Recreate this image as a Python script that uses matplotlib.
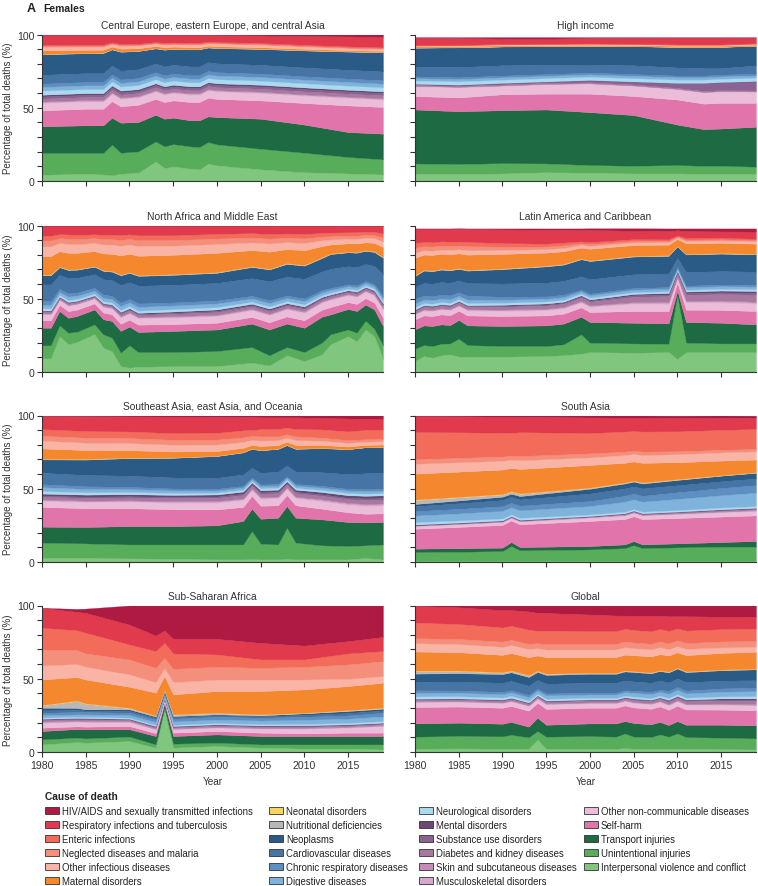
import numpy as np
import matplotlib
matplotlib.use('Agg')
import matplotlib.pyplot as plt
from matplotlib.patches import Patch

# causes, bottom of the stack first
causes = ['Interpersonal violence and conflict', 'Unintentional injuries', 'Transport injuries',
          'Self-harm', 'Other non-communicable diseases', 'Musculoskeletal disorders',
          'Skin and subcutaneous diseases', 'Diabetes and kidney diseases', 'Substance use disorders',
          'Mental disorders', 'Neurological disorders', 'Digestive diseases',
          'Chronic respiratory diseases', 'Cardiovascular diseases', 'Neoplasms',
          'Nutritional deficiencies', 'Neonatal disorders', 'Maternal disorders',
          'Other infectious diseases', 'Neglected diseases and malaria', 'Enteric infections',
          'Respiratory infections and tuberculosis', 'HIV/AIDS and sexually transmitted infections']
colors = ['#80C67F', '#58AD5B', '#1E6B43', '#E174AA', '#ECBDD9', '#D7A8CD', '#C48DB9', '#A8789F',
          '#8B6392', '#6B4775', '#A9DAF0', '#80B3DC', '#5E8FC3', '#4574A5', '#2A5B87', '#B9B7B8',
          '#F8D45E', '#F5872E', '#F9B4A6', '#F48F7B', '#F26C59', '#E13A4D', '#AE1A42']

# each row: year, then % of total deaths for every cause (same order as `causes`)
ceeca = [
    [1980, 4.3, 14.8, 18.2, 10.9, 5.0, .6, .4, 2.0, 1.5, 1.2, 2.8, 2.5, 2.3, 6.0, 14.0, .2, .1, 2.3, 2.5, .4, .8, 7.0, .2],
    [1985, 5.0, 14.1, 18.9, 11.3, 5.0, .6, .4, 2.0, 1.5, 1.2, 2.8, 2.5, 2.3, 6.0, 13.6, .2, .1, 2.0, 2.3, .4, .8, 6.8, .2],
    [1987, 4.5, 14.6, 18.9, 11.3, 5.0, .6, .4, 2.0, 1.5, 1.2, 2.8, 2.5, 2.3, 6.0, 13.8, .2, .1, 1.9, 2.2, .4, .8, 6.8, .2],
    [1988, 3.9, 20.9, 18.4, 11.3, 5.0, .6, .4, 2.0, 1.5, 1.2, 2.8, 2.5, 2.3, 6.0, 11.0, .2, .1, 1.6, 1.8, .4, .8, 5.1, .2],
    [1989, 5.0, 14.3, 20.5, 11.2, 5.0, .6, .4, 2.0, 1.5, 1.2, 2.8, 2.5, 2.3, 6.0, 12.9, .2, .1, 1.8, 2.0, .4, .8, 6.3, .2],
    [1991, 5.7, 14.5, 20.0, 11.8, 5.0, .6, .4, 2.0, 1.5, 1.2, 2.8, 2.5, 2.3, 6.0, 12.4, .2, .1, 1.6, 1.9, .4, .8, 6.1, .2],
    [1993, 13.4, 13.6, 18.2, 10.8, 5.0, .6, .4, 2.0, 1.5, 1.2, 2.8, 2.5, 2.3, 6.0, 10.2, .2, .1, 1.3, 1.6, .4, .8, 4.9, .2],
    [1994, 8.9, 14.7, 18.9, 11.4, 5.0, .6, .4, 2.0, 1.5, 1.2, 2.8, 2.5, 2.3, 6.0, 11.4, .2, .1, 1.4, 1.8, .4, .8, 5.5, .2],
    [1995, 10.0, 15.2, 18.0, 11.8, 5.0, .6, .4, 2.0, 1.5, 1.2, 2.8, 2.5, 2.3, 6.0, 10.8, .2, .1, 1.3, 1.7, .4, .8, 5.2, .2],
    [1997, 8.4, 15.2, 17.8, 12.5, 5.0, .6, .4, 2.0, 1.5, 1.2, 2.8, 2.5, 2.3, 6.0, 11.6, .2, .1, 1.2, 1.8, .4, .8, 5.4, .3],
    [1998, 8.0, 15.2, 18.2, 12.5, 5.0, .6, .4, 2.0, 1.5, 1.2, 2.8, 2.5, 2.3, 6.0, 11.7, .2, .1, 1.1, 1.8, .4, .8, 5.4, .3],
    [1999, 11.8, 14.8, 17.5, 12.7, 5.0, .6, .4, 2.0, 1.5, 1.2, 2.8, 2.5, 2.3, 6.0, 10.0, .2, .1, 1.0, 1.6, .4, .8, 4.5, .3],
    [2000, 10.7, 14.3, 18.6, 12.4, 5.0, .6, .4, 2.0, 1.5, 1.2, 2.8, 2.5, 2.3, 6.0, 10.4, .2, .1, 1.0, 1.7, .4, .8, 4.7, .4],
    [2005, 8.0, 14.0, 20.5, 12.5, 5.0, .6, .4, 2.0, 1.5, 1.2, 2.8, 2.5, 2.3, 6.0, 10.8, .2, .1, .9, 1.7, .4, .8, 5.2, .6],
    [2010, 6.0, 13.3, 19.2, 14.7, 5.0, .6, .4, 2.0, 1.5, 1.2, 2.8, 2.5, 2.3, 6.0, 11.6, .2, .1, .8, 1.6, .4, .8, 6.0, 1.0],
    [2015, 5.2, 11.2, 17.0, 18.2, 5.0, .6, .4, 2.0, 1.5, 1.2, 2.8, 2.5, 2.3, 6.0, 12.4, .2, .1, .7, 1.4, .4, .8, 6.8, 1.3],
    [2019, 4.5, 10.3, 17.5, 18.2, 5.0, .6, .4, 2.0, 1.5, 1.2, 2.8, 2.5, 2.3, 6.0, 13.0, .2, .1, .7, 1.3, .4, .8, 7.2, 1.5],
]

high_income = [
    [1980, 4.8, 7.2, 36.8, 9.2, 6.6, .3, .1, .6, .5, .3, 2.2, 1.6, 1.2, 6.6, 13.0, .1, .1, .6, .6, .1, .2, 5.1, .4],
    [1985, 4.8, 6.8, 36.0, 9.4, 7.0, .3, .1, .6, .5, .3, 2.2, 1.6, 1.2, 7.0, 13.4, .1, .1, .6, .6, .1, .2, 4.7, .6],
    [1990, 5.2, 7.0, 36.1, 10.9, 5.7, .3, .1, .6, .8, .3, 2.2, 1.6, 1.2, 7.0, 12.8, .1, .1, .6, .6, .1, .2, 3.7, 1.0],
    [1995, 6.0, 6.0, 36.8, 10.8, 6.4, .3, .1, .6, .7, .3, 2.2, 1.6, 1.2, 6.4, 12.6, .1, .1, .6, .6, .1, .2, 3.5, 1.0],
    [2000, 5.7, 5.2, 36.1, 12.6, 6.8, .3, .1, .6, 1.3, .3, 2.2, 1.6, 1.2, 5.5, 12.7, .1, .1, .6, .6, .1, .2, 3.7, .6],
    [2005, 5.2, 5.2, 34.6, 13.0, 6.9, .3, .1, .6, 1.8, .3, 2.2, 1.6, 1.2, 6.0, 13.0, .1, .1, .6, .6, .1, .2, 4.0, .5],
    [2010, 5.2, 5.7, 27.6, 17.1, 7.0, .3, .1, .6, 3.1, .3, 2.2, 1.6, 1.2, 5.5, 14.0, .1, .1, .6, .6, .1, .2, 4.6, .4],
    [2013, 5.0, 5.4, 25.0, 17.4, 7.7, .3, .1, .6, 5.2, .3, 2.2, 1.6, 1.2, 5.0, 14.5, .1, .1, .6, .6, .1, .2, 4.6, .4],
    [2015, 4.8, 5.6, 25.4, 17.5, 7.7, .3, .1, .6, 5.3, .3, 2.2, 1.6, 1.2, 4.4, 14.5, .1, .1, .6, .6, .1, .2, 4.6, .4],
    [2019, 4.8, 5.0, 27.2, 16.3, 7.5, .3, .1, .6, 6.2, .3, 2.2, 1.6, 1.2, 5.7, 13.3, .1, .1, .6, .6, .1, .2, 3.8, .4],
]

north_africa = [
    [1980, 9.3, 8.9, 12.0, 5.0, 4.1, .4, .3, 1.0, .5, .5, 1.5, 2.5, 2.4, 11.4, 6.2, .3, .2, 12.5, 6.8, 4.0, 3.2, 6.9, .1],
    [1981, 9.3, 8.9, 12.0, 5.0, 4.1, .4, .3, 1.0, .5, .5, 1.5, 2.5, 2.4, 11.4, 6.2, .3, .2, 12.5, 6.8, 4.0, 3.2, 6.9, .1],
    [1982, 24.5, 7.3, 9.8, 4.2, 3.4, .3, .3, .8, .4, .4, 1.3, 2.1, 2.0, 9.5, 5.2, .3, .2, 10.4, 5.7, 3.3, 2.7, 5.8, .1],
    [1983, 19.0, 7.8, 10.2, 4.5, 3.7, .4, .3, .9, .5, .5, 1.4, 2.3, 2.2, 10.3, 5.6, .3, .2, 11.2, 6.1, 3.6, 2.9, 6.0, .1],
    [1984, 20.5, 7.0, 10.7, 4.4, 3.6, .4, .3, .9, .4, .4, 1.3, 2.2, 2.1, 10.1, 5.5, .3, .2, 11.0, 6.0, 3.5, 2.8, 6.3, .1],
    [1986, 26.0, 6.5, 10.2, 4.1, 3.4, .3, .2, .8, .4, .4, 1.2, 2.0, 2.0, 9.3, 5.1, .2, .2, 10.2, 5.6, 3.3, 2.6, 5.9, .1],
    [1987, 16.6, 9.1, 10.3, 4.6, 3.8, .4, .3, .9, .5, .5, 1.4, 2.3, 2.2, 10.4, 5.7, .3, .2, 11.4, 6.2, 3.7, 2.9, 6.2, .1],
    [1988, 14.3, 9.1, 11.4, 4.6, 3.9, .4, .3, 1.0, .5, .6, 1.4, 2.3, 2.2, 10.7, 5.8, .3, .2, 11.7, 6.3, 3.7, 3.0, 6.2, .1],
    [1989, 4.0, 9.2, 14.8, 4.9, 4.4, .5, .4, 1.4, .6, .8, 1.5, 2.6, 2.3, 12.0, 6.6, .3, .2, 13.1, 6.6, 4.0, 3.3, 6.4, .1],
    [1990, 3.0, 15.2, 12.8, 4.7, 4.2, .5, .4, 1.4, .6, .8, 1.5, 2.5, 2.2, 11.5, 6.4, .3, .2, 12.5, 6.4, 3.8, 3.1, 5.9, .1],
    [1991, 3.6, 10.0, 13.7, 5.0, 4.4, .5, .4, 1.4, .6, .8, 1.5, 2.6, 2.3, 12.1, 6.7, .3, .2, 13.2, 6.7, 4.0, 3.3, 6.6, .1],
    [1995, 4.0, 9.6, 14.4, 4.7, 4.4, .6, .4, 1.6, .7, .9, 1.6, 2.5, 2.1, 12.0, 6.8, .3, .2, 13.2, 6.3, 3.8, 3.2, 6.5, .2],
    [2000, 4.0, 10.3, 14.7, 4.6, 4.5, .6, .4, 1.8, .8, 1.0, 1.6, 2.5, 2.0, 12.0, 6.9, .3, .2, 13.1, 6.1, 3.7, 3.2, 5.5, .2],
    [2004, 6.4, 10.6, 16.0, 4.6, 4.6, .6, .4, 1.6, .8, 1.0, 1.4, 2.2, 1.8, 12.1, 7.6, .3, .2, 11.0, 5.3, 3.3, 3.0, 5.0, .2],
    [2006, 4.5, 6.9, 17.6, 4.9, 4.9, .6, .4, 1.7, .8, 1.0, 1.5, 2.3, 1.9, 12.9, 8.1, .3, .2, 11.6, 5.6, 3.4, 3.1, 5.6, .2],
    [2008, 11.4, 5.6, 16.0, 4.9, 4.9, .6, .4, 1.5, .8, .9, 1.4, 2.1, 1.7, 12.9, 8.7, .3, .2, 9.6, 4.8, 3.0, 2.9, 5.1, .3],
    [2010, 7.5, 6.1, 16.6, 5.1, 5.1, .6, .4, 1.6, .8, .9, 1.5, 2.2, 1.8, 13.4, 9.0, .3, .2, 10.0, 5.0, 3.1, 3.0, 5.5, .3],
    [2012, 12.0, 8.0, 17.7, 4.8, 4.9, .5, .4, 1.4, .7, .8, 1.3, 1.9, 1.5, 12.7, 9.2, .3, .2, 7.6, 4.0, 2.5, 2.6, 4.7, .3],
    [2013, 19.0, 6.7, 13.6, 5.0, 5.0, .5, .4, 1.3, .7, .7, 1.3, 1.8, 1.3, 13.1, 10.1, .3, .2, 6.0, 3.5, 2.2, 2.5, 4.5, .3],
    [2015, 24.5, 4.5, 14.0, 4.7, 4.7, .5, .3, 1.2, .7, .7, 1.2, 1.7, 1.2, 12.3, 9.5, .2, .2, 5.7, 3.2, 2.1, 2.3, 4.4, .2],
    [2016, 21.0, 5.8, 14.8, 4.8, 4.9, .5, .3, 1.3, .7, .7, 1.3, 1.7, 1.3, 12.6, 9.7, .3, .2, 5.8, 3.3, 2.1, 2.4, 4.2, .3],
    [2017, 29.0, 6.0, 11.0, 4.4, 4.5, .5, .3, 1.2, .6, .6, 1.2, 1.6, 1.2, 11.6, 9.0, .2, .2, 5.4, 3.1, 2.0, 2.2, 4.0, .2],
    [2018, 24.5, 5.0, 13.2, 4.7, 4.8, .5, .3, 1.3, .7, .7, 1.3, 1.7, 1.3, 12.4, 9.5, .3, .2, 5.7, 3.3, 2.1, 2.3, 3.9, .3],
    [2019, 9.0, 9.2, 13.2, 5.6, 5.7, .6, .4, 1.5, .8, .8, 1.5, 2.0, 1.5, 14.8, 11.4, .3, .2, 6.8, 3.9, 2.5, 2.8, 5.2, .3],
]

latin_america = [
    [1980, 7.5, 8.4, 13.2, 6.8, 3.4, .5, .3, 1.5, .5, .6, 1.6, 2.5, 3.2, 8.2, 7.3, .4, .2, 11.9, 3.4, 3.4, 3.4, 9.8, .0],
    [1981, 10.9, 7.5, 13.4, 6.8, 3.4, .5, .3, 1.7, .5, .6, 1.5, 2.3, 2.7, 8.6, 8.5, .3, .2, 10.4, 3.0, 2.8, 2.9, 9.0, .2],
    [1982, 9.8, 7.9, 13.7, 6.8, 3.4, .5, .3, 1.7, .5, .6, 1.5, 2.3, 2.7, 8.6, 8.5, .3, .2, 10.6, 3.0, 2.8, 2.9, 9.2, .2],
    [1983, 11.4, 7.9, 13.2, 6.8, 3.4, .5, .3, 1.7, .5, .6, 1.5, 2.3, 2.7, 8.6, 8.5, .3, .2, 10.3, 2.8, 2.8, 2.9, 8.6, .2],
    [1984, 12.0, 7.5, 12.5, 6.8, 3.4, .5, .3, 1.7, .5, .6, 1.5, 2.3, 2.7, 8.6, 8.5, .3, .2, 10.4, 3.0, 2.8, 2.9, 8.8, .2],
    [1985, 10.5, 12.2, 12.8, 6.3, 3.2, .5, .3, 1.6, .5, .6, 1.4, 2.1, 2.5, 8.0, 7.9, .3, .2, 10.1, 2.8, 2.6, 2.7, 8.8, .2],
    [1986, 10.5, 7.9, 13.4, 6.8, 3.4, .5, .3, 1.7, .5, .6, 1.5, 2.3, 2.7, 8.6, 8.5, .3, .2, 10.4, 3.0, 2.8, 2.9, 9.0, .2],
    [1990, 10.5, 7.2, 13.7, 6.8, 3.5, .5, .4, 2.0, .6, .7, 1.4, 2.0, 2.1, 9.0, 9.8, .3, .2, 9.9, 2.7, 2.3, 2.4, 9.4, .6],
    [1995, 10.9, 6.8, 14.1, 6.8, 3.6, .6, .4, 2.2, .6, .8, 1.4, 1.8, 1.6, 9.4, 11.1, .3, .2, 8.9, 2.4, 1.8, 1.9, 9.5, .9],
    [1997, 11.5, 7.4, 14.1, 6.8, 3.6, .6, .4, 2.2, .6, .8, 1.4, 1.8, 1.6, 9.4, 11.1, .3, .2, 8.6, 2.3, 1.8, 1.9, 8.6, 1.0],
    [1999, 12.5, 13.2, 12.0, 6.4, 3.4, .6, .4, 2.4, .7, .8, 1.2, 1.5, 1.0, 9.2, 11.7, .3, .2, 7.4, 1.9, 1.1, 1.3, 7.7, 1.1],
    [2000, 13.6, 6.4, 14.1, 6.8, 3.6, .6, .4, 2.5, .7, .8, 1.3, 1.6, 1.1, 9.8, 12.4, .3, .2, 7.9, 2.0, 1.2, 1.4, 8.2, 1.2],
    [2005, 13.2, 6.3, 14.1, 8.0, 5.0, .7, .4, 3.6, 1.0, 1.0, 1.2, 1.7, 1.1, 9.4, 12.1, .3, .2, 7.4, 1.8, 1.0, 1.2, 5.8, 1.6],
    [2009, 13.6, 5.7, 13.9, 8.4, 5.0, .7, .5, 4.0, 1.1, 1.1, 1.2, 1.7, 1.1, 9.3, 12.0, .2, .2, 7.2, 1.7, .9, 1.1, 5.6, 1.8],
    [2010, 8.9, 43.1, 3.4, 5.6, 3.3, .5, .3, 2.6, .7, .7, .8, 1.1, .7, 6.2, 7.9, .1, .1, 4.8, 1.1, .6, .7, 3.6, 1.2],
    [2011, 13.6, 6.4, 14.1, 8.4, 5.0, .7, .5, 4.0, 1.1, 1.1, 1.2, 1.7, 1.1, 9.3, 12.0, .2, .2, 7.2, 1.7, .9, 1.1, 4.7, 1.8],
    [2015, 13.6, 5.9, 14.1, 8.8, 5.1, .8, .5, 4.4, 1.2, 1.2, 1.2, 1.8, 1.1, 9.2, 11.9, .2, .2, 7.0, 1.6, .8, 1.0, 4.4, 2.0],
    [2019, 13.6, 5.9, 13.0, 9.1, 5.1, .8, .5, 4.8, 1.2, 1.3, 1.2, 1.8, 1.1, 9.1, 11.8, .2, .2, 6.9, 1.6, .8, 1.0, 4.9, 2.1],
]

southeast_asia = [
    [1980, 3.0, 10.2, 10.9, 13.5, 4.1, .6, .4, 1.8, .8, 1.4, 1.8, 2.6, 2.0, 7.8, 9.1, .3, .2, 7.0, 5.3, 3.4, 4.5, 9.0, .3],
    [1985, 2.8, 9.9, 11.2, 12.8, 4.2, .6, .4, 1.9, .8, 1.4, 1.6, 2.3, 1.8, 7.7, 10.5, .3, .2, 6.0, 5.1, 3.4, 4.5, 10.2, .4],
    [1990, 2.5, 9.5, 12.5, 12.2, 4.4, .6, .4, 2.0, .8, 1.4, 1.5, 2.0, 1.5, 7.6, 12.0, .2, .2, 5.0, 4.9, 3.4, 4.5, 10.3, .6],
    [1995, 2.3, 9.7, 12.5, 11.5, 4.5, .6, .4, 2.1, .8, 1.4, 1.4, 1.7, 1.3, 7.5, 13.4, .2, .1, 4.0, 4.7, 3.4, 4.5, 11.3, .7],
    [2000, 1.8, 10.2, 13.0, 10.9, 4.6, .7, .4, 2.2, .9, 1.4, 1.3, 1.5, 1.1, 7.5, 14.8, .2, .1, 3.1, 4.5, 3.4, 4.6, 10.9, .9],
    [2003, 1.8, 10.2, 16.0, 9.6, 4.7, .7, .4, 2.3, .9, 1.5, 1.3, 1.5, 1.1, 7.8, 15.0, .2, .1, 2.8, 4.1, 3.1, 4.8, 9.0, 1.1],
    [2004, 2.0, 19.1, 15.3, 8.8, 4.1, .6, .3, 2.0, .8, 1.3, 1.1, 1.3, .9, 6.7, 12.9, .2, .1, 2.4, 3.5, 2.7, 4.1, 8.9, .9],
    [2005, 1.8, 10.7, 17.0, 8.9, 4.8, .7, .4, 2.3, .9, 1.5, 1.3, 1.5, 1.1, 8.0, 15.3, .2, .1, 2.6, 3.8, 2.9, 4.9, 8.1, 1.2],
    [2007, 1.8, 10.2, 18.2, 8.5, 4.9, .7, .4, 2.3, .9, 1.5, 1.3, 1.5, 1.1, 8.4, 15.5, .2, .1, 2.3, 3.4, 2.6, 5.0, 8.0, 1.3],
    [2008, 2.2, 21.2, 14.8, 7.5, 4.3, .6, .4, 2.0, .8, 1.3, 1.2, 1.3, 1.0, 7.4, 13.7, .2, .1, 2.0, 3.0, 2.3, 4.4, 7.1, 1.2],
    [2009, 1.8, 11.4, 17.0, 8.5, 4.9, .7, .4, 2.3, .9, 1.5, 1.3, 1.5, 1.1, 8.4, 15.5, .2, .1, 2.3, 3.4, 2.6, 5.0, 8.0, 1.3],
    [2012, 1.8, 9.6, 17.7, 7.3, 5.1, .8, .5, 2.4, 1.0, 1.6, 1.4, 1.6, 1.2, 9.3, 16.4, .2, .1, 1.9, 2.9, 2.1, 5.6, 7.8, 1.7],
    [2015, 1.8, 9.1, 16.4, 6.6, 5.2, .8, .5, 2.5, 1.0, 1.7, 1.5, 1.7, 1.2, 10.0, 17.0, .1, .1, 1.6, 2.6, 1.8, 6.0, 8.8, 2.0],
    [2017, 2.8, 8.6, 15.6, 5.9, 5.4, .9, .5, 2.6, 1.1, 1.8, 1.5, 1.7, 1.3, 10.9, 17.7, .1, .1, 1.4, 2.3, 1.6, 6.4, 7.5, 2.3],
    [2019, 1.8, 10.2, 15.3, 5.9, 5.4, .9, .5, 2.6, 1.1, 1.8, 1.5, 1.7, 1.3, 10.9, 17.7, .1, .1, 1.4, 2.3, 1.6, 6.4, 7.2, 2.3],
]

south_asia = [
    [1980, .8, 6.0, 2.3, 13.6, 1.8, .2, .2, .3, .1, .3, 1.6, 4.5, 3.0, 3.4, 1.5, 2.7, .3, 17.7, 6.8, 3.0, 18.6, 10.9, .4],
    [1985, .8, 6.2, 2.4, 14.5, 1.9, .2, .2, .3, .1, .3, 1.5, 4.8, 3.1, 3.8, 1.9, 2.2, .3, 17.2, 6.4, 3.0, 17.4, 11.0, .5],
    [1990, .8, 6.7, 2.3, 15.5, 2.0, .2, .2, .3, .1, .3, 1.4, 5.1, 3.2, 4.2, 2.3, 1.5, .3, 16.7, 6.0, 2.9, 16.2, 11.0, .8],
    [1991, .8, 10.1, 2.7, 14.7, 1.9, .2, .2, .3, .1, .3, 1.3, 4.8, 3.0, 4.0, 2.2, 1.4, .3, 15.9, 5.7, 2.8, 15.4, 11.1, .8],
    [1992, .8, 7.2, 2.2, 15.5, 2.0, .2, .2, .3, .1, .3, 1.4, 5.1, 3.2, 4.2, 2.3, 1.5, .3, 16.7, 6.0, 2.9, 16.2, 10.6, .8],
    [2000, .8, 7.8, 2.3, 17.1, 2.2, .3, .2, .4, .1, .2, 1.1, 5.7, 3.4, 5.2, 3.2, .5, .3, 15.4, 5.2, 2.8, 13.8, 10.7, 1.3],
    [2004, .8, 8.7, 2.5, 17.3, 2.5, .3, .2, .5, .2, .3, 1.1, 6.8, 4.0, 5.0, 3.4, .4, .3, 13.4, 5.3, 2.4, 13.7, 9.5, 1.4],
    [2005, .8, 10.7, 2.8, 16.9, 2.4, .3, .2, .5, .2, .3, 1.1, 6.6, 3.9, 4.9, 3.3, .4, .3, 13.0, 5.2, 2.3, 13.3, 9.2, 1.4],
    [2006, .8, 8.7, 2.5, 17.3, 2.5, .3, .2, .5, .2, .3, 1.1, 6.8, 4.0, 5.0, 3.4, .4, .3, 13.4, 5.3, 2.4, 13.7, 9.5, 1.4],
    [2010, .8, 9.2, 2.7, 17.3, 2.7, .3, .3, .6, .2, .3, 1.1, 7.6, 4.5, 4.8, 3.6, .3, .3, 11.5, 5.5, 2.0, 13.6, 9.2, 1.5],
    [2015, .8, 9.7, 3.1, 17.4, 2.9, .4, .3, .7, .3, .4, 1.2, 8.4, 4.9, 4.6, 3.8, .2, .2, 9.9, 5.6, 1.8, 13.6, 8.2, 1.6],
    [2019, .8, 9.7, 3.8, 17.5, 3.0, .4, .3, .8, .3, .4, 1.2, 9.1, 5.2, 4.5, 3.9, .2, .2, 8.6, 5.7, 1.6, 13.6, 7.5, 1.6],
]

sub_saharan = [
    [1980, 5.2, 3.4, 5.7, 2.3, 3.4, .3, .5, 1.2, .2, .5, .8, 1.7, 1.6, 1.6, 1.8, 1.6, .3, 17.4, 9.6, 10.9, 14.8, 13.6, .0],
    [1984, 6.8, 3.0, 5.9, 1.8, 3.2, .3, .5, 1.1, .2, .5, .8, 1.6, 1.6, 1.4, 1.4, 4.7, .3, 16.0, 9.0, 9.5, 13.5, 12.6, 2.0],
    [1985, 6.4, 2.9, 6.2, 1.8, 3.2, .3, .5, 1.2, .2, .5, .8, 1.7, 1.6, 1.0, .8, 3.8, .3, 16.3, 8.7, 9.1, 14.1, 13.6, 2.9],
    [1990, 7.5, 3.0, 5.0, 2.2, 2.8, .3, .4, 1.0, .1, .4, .8, 1.7, 1.6, 1.2, 1.1, .8, .3, 14.3, 8.5, 10.2, 10.2, 13.6, 13.0],
    [1993, 3.0, 2.2, 5.7, 2.0, 2.5, .3, .4, 1.0, .2, .4, .8, 2.0, 1.7, 1.2, .8, .5, .2, 15.6, 7.2, 9.8, 11.4, 10.6, 20.5],
    [1994, 29.1, 1.1, 3.0, 1.2, 1.5, .2, .2, .6, .1, .2, .5, 1.3, 1.2, .8, .6, .5, .2, 9.5, 5.7, 6.8, 10.2, 8.5, 17.0],
    [1995, 3.0, 2.7, 5.2, 2.3, 2.3, .3, .4, 1.0, .1, .4, .9, 2.3, 1.8, 1.1, .7, .9, .3, 13.6, 8.4, 9.1, 10.5, 10.0, 22.7],
    [2000, 4.1, 2.3, 5.6, 2.3, 2.3, .3, .4, 1.0, .2, .4, .9, 2.4, 1.9, 1.0, .6, .8, .3, 14.8, 7.9, 8.7, 8.4, 10.7, 22.7],
    [2005, 3.0, 2.2, 5.7, 2.3, 2.7, .3, .4, 1.0, .2, .4, .9, 2.4, 1.9, 1.0, .6, .4, .3, 15.9, 7.9, 8.0, 5.7, 11.3, 25.5],
    [2010, 2.3, 2.9, 5.7, 1.8, 3.2, .3, .4, 1.0, .2, .4, 1.0, 2.8, 2.1, 1.3, 1.0, .2, .2, 15.9, 6.8, 8.7, 5.0, 9.5, 27.3],
    [2015, 2.3, 2.9, 5.7, 2.3, 3.4, .3, .4, 1.0, .2, .4, 1.0, 2.9, 2.2, 1.6, 1.4, .3, .3, 16.4, 5.0, 9.8, 7.5, 8.4, 24.3],
    [2019, 1.8, 3.4, 5.7, 2.3, 4.5, .3, .4, 1.0, .2, .4, 1.1, 3.2, 2.5, 1.6, 1.1, .4, .3, 17.1, 4.5, 10.2, 6.9, 9.7, 21.4],
]

global_ = [
    [1980, 2.3, 8.2, 9.0, 11.2, 3.4, .3, .3, 1.0, .3, .4, 1.6, 2.3, 1.8, 5.7, 5.7, 1.8, .3, 13.0, 5.7, 3.4, 10.7, 11.5, .1],
    [1985, 2.5, 8.5, 9.0, 11.0, 3.3, .3, .3, 1.0, .3, .4, 1.5, 2.3, 1.6, 6.0, 5.8, 1.5, .3, 12.5, 5.6, 3.5, 10.2, 11.4, 1.2],
    [1990, 2.3, 8.4, 8.6, 10.9, 3.2, .3, .3, 1.1, .3, .4, 1.4, 2.3, 1.5, 6.3, 5.9, 1.0, .3, 11.8, 5.5, 3.6, 9.6, 11.9, 3.1],
    [1991, 2.3, 9.5, 8.7, 10.9, 3.2, .3, .3, 1.1, .3, .4, 1.4, 2.3, 1.5, 6.3, 5.9, 1.0, .3, 11.8, 5.5, 3.6, 9.6, 10.7, 3.1],
    [1993, 2.3, 7.7, 7.3, 10.9, 3.2, .3, .3, 1.1, .3, .4, 1.4, 2.3, 1.5, 6.3, 5.9, 1.0, .3, 12.2, 5.6, 3.6, 9.6, 12.5, 4.0],
    [1994, 8.6, 5.7, 9.1, 10.1, 2.9, .3, .3, 1.0, .3, .4, 1.2, 2.1, 1.3, 5.9, 5.4, .7, .2, 10.4, 5.0, 3.4, 8.5, 12.2, 5.0],
    [1995, 2.3, 8.2, 8.1, 10.8, 3.1, .4, .3, 1.1, .4, .4, 1.3, 2.3, 1.3, 6.6, 6.0, .7, .2, 11.2, 5.3, 3.7, 9.1, 12.1, 5.1],
    [2000, 2.3, 8.6, 8.6, 10.7, 3.0, .4, .3, 1.2, .4, .4, 1.1, 2.3, 1.2, 6.8, 6.1, .5, .2, 10.7, 5.2, 3.9, 8.6, 11.4, 6.1],
    [2003, 2.3, 8.2, 9.0, 10.7, 3.0, .4, .3, 1.2, .4, .4, 1.1, 2.3, 1.2, 6.8, 6.1, .5, .2, 10.7, 5.2, 3.9, 8.6, 10.7, 6.8],
    [2004, 2.7, 10.0, 8.4, 10.7, 3.0, .4, .3, 1.2, .4, .4, 1.1, 2.3, 1.2, 6.8, 6.1, .5, .2, 10.7, 5.2, 3.9, 8.6, 9.1, 6.8],
    [2005, 2.3, 8.2, 9.3, 10.6, 3.1, .4, .3, 1.4, .5, .5, 1.2, 2.6, 1.5, 6.3, 6.4, .4, .2, 10.9, 4.8, 3.9, 8.5, 9.8, 6.9],
    [2007, 2.3, 7.9, 8.7, 10.6, 3.1, .4, .3, 1.4, .5, .5, 1.2, 2.6, 1.5, 6.3, 6.4, .4, .2, 10.9, 4.8, 3.9, 8.5, 10.7, 6.9],
    [2008, 2.3, 9.7, 8.5, 10.6, 3.1, .4, .3, 1.4, .5, .5, 1.2, 2.6, 1.5, 6.3, 6.4, .4, .2, 10.9, 4.8, 3.9, 8.5, 9.1, 6.9],
    [2009, 2.3, 8.2, 7.9, 10.4, 3.2, .4, .3, 1.7, .6, .6, 1.3, 2.9, 1.9, 5.8, 6.8, .4, .2, 11.0, 4.3, 4.0, 8.5, 10.0, 7.3],
    [2010, 2.3, 10.4, 8.4, 10.4, 3.2, .4, .3, 1.7, .6, .6, 1.3, 2.9, 1.9, 5.8, 6.8, .4, .2, 10.4, 4.3, 4.0, 8.1, 8.3, 7.3],
    [2011, 2.3, 7.9, 8.4, 10.4, 3.2, .4, .3, 1.7, .6, .6, 1.3, 2.9, 1.9, 5.8, 6.8, .4, .2, 11.0, 4.3, 4.0, 8.5, 9.8, 7.3],
    [2015, 2.0, 7.8, 8.8, 10.3, 3.3, .5, .4, 2.0, .7, .8, 1.4, 3.2, 2.2, 5.3, 7.1, .3, .2, 11.3, 3.8, 4.1, 8.4, 8.5, 7.6],
    [2019, 1.8, 7.5, 8.9, 10.2, 3.4, .5, .4, 2.2, .8, .9, 1.5, 3.4, 2.5, 5.0, 7.4, .3, .2, 11.5, 3.4, 4.1, 8.4, 8.0, 7.7],
]

panels = [
    ('Central Europe, eastern Europe, and central Asia', ceeca),
    ('High income', high_income),
    ('North Africa and Middle East', north_africa),
    ('Latin America and Caribbean', latin_america),
    ('Southeast Asia, east Asia, and Oceania', southeast_asia),
    ('South Asia', south_asia),
    ('Sub-Saharan Africa', sub_saharan),
    ('Global', global_),
]
x_ticks = [1980, 1985, 1990, 1995, 2000, 2005, 2010, 2015]
y_ticks = [0, 10, 20, 30, 40, 50, 60, 70, 80, 90, 100]
y_ticklabels = ['0', '', '', '', '', '50', '', '', '', '', '100']

plt.rcParams['font.family'] = 'Liberation Sans'
ink = '#333333'

W, H = 758, 887
fig = plt.figure(figsize=(W / 100, H / 100), dpi=100)

col_left = [42, 415]
row_bottom = [182, 373, 563, 753]
ax_w, ax_h = 341, 146.5

for i, (title, rows) in enumerate(panels):
    r, c = divmod(i, 2)
    ax = fig.add_axes([col_left[c] / W, 1 - row_bottom[r] / H, ax_w / W, ax_h / H])
    arr = np.array(rows)
    ax.stackplot(arr[:, 0], arr[:, 1:].T, colors=colors, edgecolor='face', linewidth=0.2)
    ax.set_xlim(1980, 2019)
    ax.set_ylim(0, 100)
    ax.set_title(title, fontsize=7.4, color=ink, pad=5)
    for s in ['top', 'right']:
        ax.spines[s].set_visible(False)
    for s in ['left', 'bottom']:
        ax.spines[s].set_color(ink)
        ax.spines[s].set_linewidth(0.8)
    ax.tick_params(direction='out', length=3.5, width=0.8, color=ink, labelcolor=ink, labelsize=7.6, pad=2)
    ax.set_xticks(x_ticks)
    ax.set_yticks(y_ticks)
    if c == 0:
        ax.set_yticklabels(y_ticklabels)
        ax.set_ylabel('Percentage of total deaths (%)', fontsize=7, color=ink)
        ax.yaxis.set_label_coords(-0.086, 0.5)
    else:
        ax.set_yticklabels([])
    if r == 3:
        ax.set_xlabel('Year', fontsize=7.2, color=ink)
        ax.xaxis.set_label_coords(0.5, -0.165)
    else:
        ax.set_xticklabels([])

fig.text(27 / W, 1 - 9 / H, 'A', fontsize=9, weight='bold', color='#222222', va='center')
fig.text(43 / W, 1 - 9 / H, 'Females', fontsize=7.5, weight='bold', color='#222222', va='center')

# legend: four columns, same order as the published key
fig.text(45 / W, 1 - 797 / H, 'Cause of death', fontsize=7.3, weight='bold', color='#222222', va='center')
legend_order = list(range(len(causes)))[::-1]
col_x = [45, 269, 419, 584]
for k, x in enumerate(col_x):
    idx = legend_order[k * 6:(k + 1) * 6]
    handles = [Patch(facecolor=colors[j], edgecolor='#333333', linewidth=0.6) for j in idx]
    fig.legend(handles, [causes[j] for j in idx], loc='upper left',
               bbox_to_anchor=(x / W, 1 - 807 / H), frameon=False, fontsize=6.9,
               handlelength=1.45, handleheight=0.8, handletextpad=0.3,
               labelspacing=0.42, borderpad=0, borderaxespad=0, labelcolor='#222222')

fig.savefig('out.png', dpi=100)
